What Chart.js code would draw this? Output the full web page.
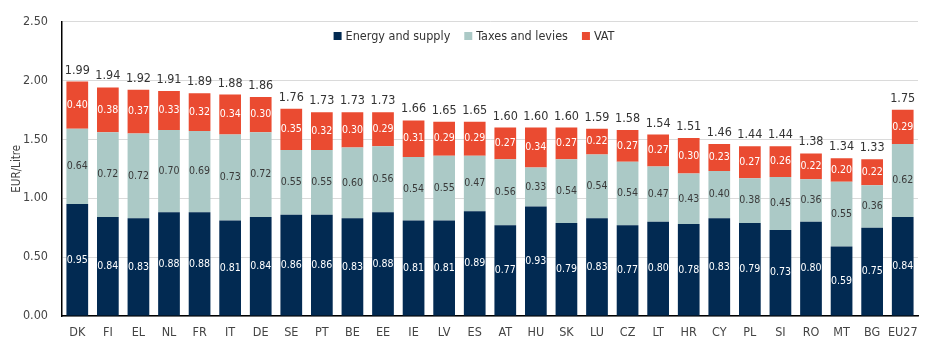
<!DOCTYPE html>
<html><head><meta charset="utf-8">
<script src="https://cdn.jsdelivr.net/npm/chart.js@4"></script>
<style>html,body{margin:0;padding:0;background:#fff}#w{width:952px;height:360px}</style>
</head><body><div id="w"><canvas id="c"></canvas></div>
<script>
const categories=["DK","FI","EL","NL","FR","IT","DE","SE","PT","BE","EE","IE","LV","ES","AT","HU","SK","LU","CZ","LT","HR","CY","PL","SI","RO","MT","BG","EU27"];
const energy=[0.95,0.84,0.83,0.88,0.88,0.81,0.84,0.86,0.86,0.83,0.88,0.81,0.81,0.89,0.77,0.93,0.79,0.83,0.77,0.80,0.78,0.83,0.79,0.73,0.80,0.59,0.75,0.84];
const taxes=[0.64,0.72,0.72,0.70,0.69,0.73,0.72,0.55,0.55,0.60,0.56,0.54,0.55,0.47,0.56,0.33,0.54,0.54,0.54,0.47,0.43,0.40,0.38,0.45,0.36,0.55,0.36,0.62];
const vat=[0.40,0.38,0.37,0.33,0.32,0.34,0.30,0.35,0.32,0.30,0.29,0.31,0.29,0.29,0.27,0.34,0.27,0.22,0.27,0.27,0.30,0.23,0.27,0.26,0.22,0.20,0.22,0.29];
const totals=[1.99,1.94,1.92,1.91,1.89,1.88,1.86,1.76,1.73,1.73,1.73,1.66,1.65,1.65,1.60,1.60,1.60,1.59,1.58,1.54,1.51,1.46,1.44,1.44,1.38,1.34,1.33,1.75];
const yTicks=[0,0.5,1,1.5,2,2.5];
const FONT='"DejaVu Sans Condensed", "DejaVu Sans", Verdana, sans-serif';
const COLORS=['#022a52','#abc9c6','#ea4b31'];
const segLabels={id:'segLabels',afterDatasetsDraw(chart){
  const ctx=chart.ctx;ctx.save();ctx.textAlign='center';ctx.textBaseline='middle';
  ctx.font='10.5px '+FONT;
  chart.data.datasets.forEach((ds,di)=>{
    const meta=chart.getDatasetMeta(di);
    meta.data.forEach((el,i)=>{
      const y=(el.y+el.base)/2;
      ctx.fillStyle=di===1?'#3a3a3a':'#ffffff';
      ctx.fillText(ds.data[i].toFixed(2),el.x,y);
    });
  });
  const ys=chart.scales.y;
  ctx.font='12.5px '+FONT;ctx.fillStyle='#333';ctx.textBaseline='bottom';
  const m0=chart.getDatasetMeta(0);
  totals.forEach((t,i)=>{
    const top=ys.getPixelForValue(energy[i]+taxes[i]+vat[i]);
    ctx.fillText(t.toFixed(2),m0.data[i].x,top-5);
  });
  // legend
  ctx.font='12.5px '+FONT;ctx.textAlign='left';ctx.textBaseline='middle';
  const items=chart.data.datasets.map(d=>d.label);
  const box=8,gap=4,sp=14;
  let wTot=0;items.forEach((t,i)=>{wTot+=box+gap+ctx.measureText(t).width+(i<items.length-1?sp:0);});
  let x=474-wTot/2;const ly=36;
  items.forEach((t,i)=>{
    ctx.fillStyle=COLORS[i];ctx.fillRect(x,ly-box/2,box,box);
    x+=box+gap;ctx.fillStyle='#333';ctx.fillText(t,x,ly+0.5);
    x+=ctx.measureText(t).width+sp;
  });
  ctx.restore();
}};
new Chart(document.getElementById('c'),{
  type:'bar',
  data:{labels:categories,datasets:[
    {label:'Energy and supply',data:energy,backgroundColor:COLORS[0]},
    {label:'Taxes and levies',data:taxes,backgroundColor:COLORS[1]},
    {label:'VAT',data:vat,backgroundColor:COLORS[2]}
  ]},
  options:{responsive:true,maintainAspectRatio:false,animation:false,
    layout:{padding:{left:10,right:34,top:15,bottom:0}},
    datasets:{bar:{barPercentage:0.71,categoryPercentage:1}},
    plugins:{legend:{display:false},tooltip:{enabled:false}},
    scales:{
      x:{stacked:true,grid:{display:false,drawTicks:false},border:{color:'#000',width:1.5},
        afterFit(s){s.height=44;},
        ticks:{color:'#444',maxRotation:0,minRotation:0,autoSkip:false,font:{family:FONT,size:12.5},padding:9}},
      y:{stacked:true,min:0,max:2.5,afterBuildTicks(a){a.ticks=yTicks.map(v=>({value:v}));},
        afterFit(s){s.width=52;},
        grid:{color:'#dadada',drawTicks:false},border:{color:'#000',width:1.5},
        ticks:{color:'#444',font:{family:FONT,size:12.5},padding:14,callback:v=>Number(v).toFixed(2)},
        title:{display:true,text:'EUR/Litre',color:'#444',font:{family:FONT,size:11.5},padding:{top:0,bottom:0}}}
    }},
  plugins:[segLabels]
});
</script></body></html>
